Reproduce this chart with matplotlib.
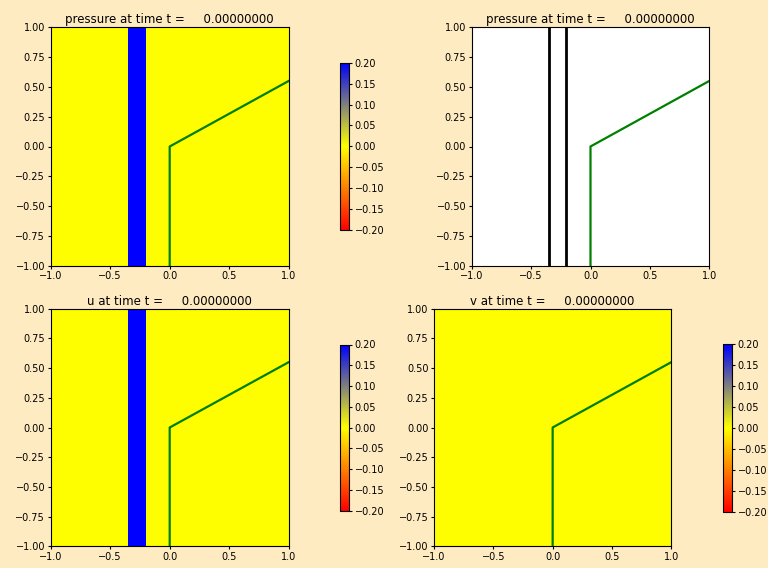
import numpy as np
import matplotlib
matplotlib.use("Agg")
import matplotlib.pyplot as plt
from matplotlib.colors import LinearSegmentedColormap

# --- Data ---
x_edges = [-1.0, -0.35, -0.2, 1.0]      # cell-block edges in x
pressure_vals = [0.0, 1.0, 0.0]          # value in each block (saturates blue)
u_vals = [0.0, 1.0, 0.0]
v_vals = [0.0, 0.0, 0.0]
y_edges = [-1.0, 1.0]

interface_x = [0.0, 0.0, 1.0]
interface_y = [-1.0, 0.0, 0.55]

cbar_ticks = [-0.20, -0.15, -0.10, -0.05, 0.00, 0.05, 0.10, 0.15, 0.20]
t_now = 0.0

BG = "#ffebc1"
cmap = LinearSegmentedColormap.from_list("red_yellow_blue", ["red", "yellow", "blue"])
VMIN, VMAX = -0.2, 0.2
TICK_FS = 7.0
TITLE_FS = 8.5

fig = plt.figure(figsize=(7.68, 5.68), dpi=100, facecolor=BG)

W, H = 768.0, 568.0
def pix_axes(l, t, r, b):
    return fig.add_axes([l / W, 1 - b / H, (r - l) / W, (b - t) / H])

def style(ax, title):
    ax.set_xlim(-1, 1)
    ax.set_ylim(-1, 1)
    ax.set_title(title, fontsize=TITLE_FS, pad=3)
    ax.tick_params(labelsize=TICK_FS, length=2.5, pad=1.5)
    ax.set_xticks([-1.0, -0.5, 0.0, 0.5, 1.0])
    ax.set_yticks(np.arange(-1.0, 1.01, 0.25))
    ax.plot(interface_x, interface_y, color="g", lw=1.6)

def add_cbar(mesh, l, t, r, b):
    cax = pix_axes(l, t, r, b)
    cb = fig.colorbar(mesh, cax=cax, ticks=cbar_ticks)
    cb.ax.tick_params(labelsize=TICK_FS, length=2.5, pad=1.5)
    cb.outline.set_linewidth(0.8)

def title_for(name):
    return "%s at time t = %14.8f" % (name, t_now)

# top-left: pressure pcolor
ax1 = pix_axes(50.7, 27.3, 288.7, 265.7)
m1 = ax1.pcolormesh(x_edges, y_edges, np.array([pressure_vals]), cmap=cmap,
                    vmin=VMIN, vmax=VMAX)
style(ax1, title_for("pressure"))
add_cbar(m1, 340, 62.7, 349, 230)

# top-right: pressure contours
ax2 = pix_axes(471.7, 27.3, 709.3, 265.7)
xc = np.linspace(-1, 1, 401)
yc = np.linspace(-1, 1, 11)
idx = np.clip(np.searchsorted(x_edges, xc, side="right") - 1, 0, len(pressure_vals) - 1)
pgrid = np.tile(np.array(pressure_vals)[idx], (len(yc), 1))
ax2.contour(xc, yc, pgrid, levels=[0.5], colors="k", linewidths=2)
ax2.set_facecolor("white")
style(ax2, title_for("pressure"))

# bottom-left: u
ax3 = pix_axes(50.7, 308.7, 288.7, 546.3)
m3 = ax3.pcolormesh(x_edges, y_edges, np.array([u_vals]), cmap=cmap,
                    vmin=VMIN, vmax=VMAX)
style(ax3, title_for("u"))
add_cbar(m3, 340, 344.5, 349, 510.8)

# bottom-right: v
ax4 = pix_axes(434, 308.7, 671.3, 546.3)
m4 = ax4.pcolormesh(x_edges, y_edges, np.array([v_vals]), cmap=cmap,
                    vmin=VMIN, vmax=VMAX)
style(ax4, title_for("v"))
add_cbar(m4, 723, 344.3, 732, 511.5)

fig.savefig("out.png", dpi=100, facecolor=BG)
